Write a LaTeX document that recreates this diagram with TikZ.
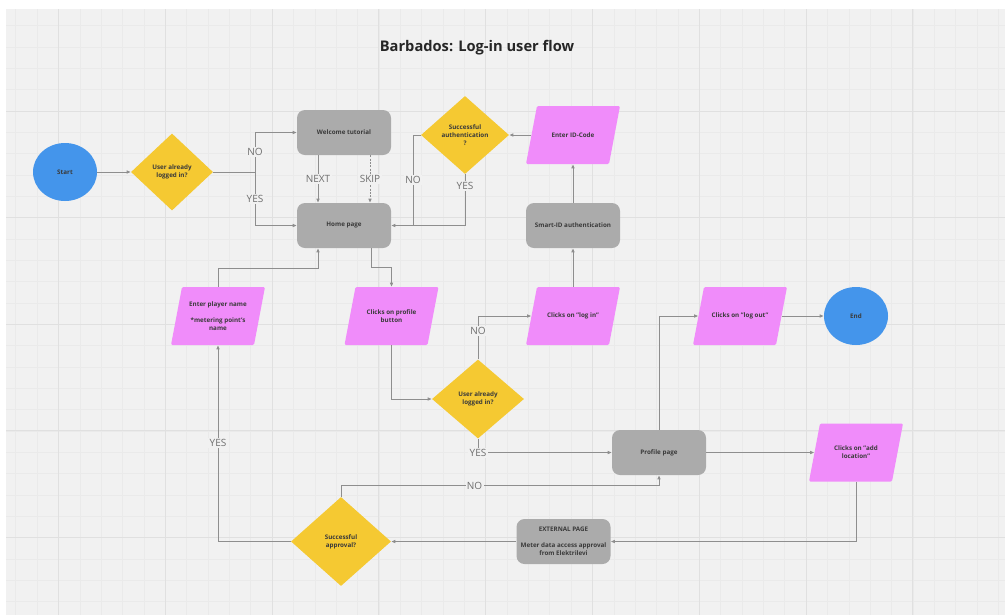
\documentclass[tikz,border=0pt]{standalone}
\usepackage{fontspec}
\setmainfont{Open Sans}
\usetikzlibrary{shapes.geometric,arrows.meta,calc}

\definecolor{canvas}{HTML}{F1F1F1}
\definecolor{gridminor}{HTML}{EAEAEA}
\definecolor{gridmajor}{HTML}{E0E0E0}
\definecolor{boxgray}{HTML}{ABABAB}
\definecolor{flowpink}{HTML}{F08CFA}
\definecolor{flowyellow}{HTML}{F5C932}
\definecolor{flowblue}{HTML}{4495EB}
\definecolor{wire}{HTML}{8E8E8E}
\definecolor{ink}{HTML}{3A3A3A}
\definecolor{labelgray}{HTML}{6E6E6E}

\tikzset{
  nodetext/.style={font=\fontsize{4.7}{6}\selectfont\bfseries, text=ink, align=center},
  process/.style={nodetext, rectangle, rounded corners=6pt, fill=boxgray,
    minimum width=70.5pt, minimum height=33.75pt, inner sep=0pt},
  terminal/.style={nodetext, ellipse, fill=flowblue,
    minimum width=48pt, minimum height=43.5pt, inner sep=0pt},
  decision/.style={nodetext, diamond, fill=flowyellow, inner sep=0pt, aspect=1},
  % slanted input/output box: a parallelogram filled inside a plain rectangle
  io/.style={nodetext, rectangle, minimum width=70.5pt, minimum height=43.5pt, inner sep=0pt,
    path picture={
      \fill[flowpink, rounded corners=1pt]
        ($(path picture bounding box.north west)+(11,0)$) --
        (path picture bounding box.north east) --
        ($(path picture bounding box.south east)+(-11,0)$) --
        (path picture bounding box.south west) -- cycle;
    }},
  flow/.style={draw=wire, line width=0.6pt, -{Latex[length=3pt,width=2.8pt]}},
  plain/.style={draw=wire, line width=0.6pt},
  lbl/.style={fill=canvas, text=labelgray, font=\fontsize{7.5}{9}\selectfont, inner sep=1pt},
  heading/.style={font=\fontsize{11}{13}\selectfont\bfseries, text=black!85}
}

\begin{document}
\begin{tikzpicture}[x=0.75pt,y=-0.75pt]
% page and canvas
\useasboundingbox (0,0) rectangle (1005,615);
\fill[white] (0,0) rectangle (1005,615);
\fill[canvas] (6,9) rectangle (1005,615);
% minor grid
\foreach \i in {-2,...,44} {
  \pgfmathsetmacro\xx{58.5+21.36*\i}
  \draw[gridminor, line width=0.45pt] (\xx,9) -- (\xx,615);
}
\foreach \j in {-4,...,23} {
  \pgfmathsetmacro\yy{111+21.33*\j}
  \draw[gridminor, line width=0.45pt] (6,\yy) -- (1005,\yy);
}
% major grid
\foreach \i in {0,...,8} {
  \pgfmathsetmacro\xx{58.5+106.8*\i}
  \draw[gridmajor, line width=0.7pt] (\xx,9) -- (\xx,615);
}
\foreach \j in {0,...,4} {
  \pgfmathsetmacro\yy{111+106.65*\j}
  \draw[gridmajor, line width=0.7pt] (6,\yy) -- (1005,\yy);
}

% title
\node[heading] (title) at (477,48) {Barbados: Log-in user flow};

% nodes
\node[terminal] (start) at (65,172) {Start};
\node[decision, minimum width=61.5pt, minimum height=57.75pt] (q1) at (172,172) {User already\\logged in?};
\node[process] (welcome) at (344,132.5) {Welcome tutorial};
\node[process] (home) at (344,225.5) {Home page};
\node[decision, minimum width=66pt, minimum height=58.5pt] (auth) at (465,135) {Successful\\authentication\\?};
\node[io] (idcode) at (573,135) {Enter ID-Code};
\node[process] (smartid) at (573,225.5) {Smart-ID authentication};
\node[io] (player) at (218,316) {Enter player name\\[6pt]*metering point's\\name};
\node[io] (profilebtn) at (391.5,316) {Clicks on profile\\button};
\node[decision, minimum width=69pt, minimum height=59.25pt] (q2) at (478,399) {User already\\logged in?};
\node[io] (login) at (573,316) {Clicks on "log in"};
\node[process] (profile) at (659,452.5) {Profile page};
\node[io] (logout) at (740,316) {Clicks on "log out"};
\node[terminal] (end) at (856,316) {End};
\node[io] (addloc) at (856,452.5) {Clicks on "add\\location"};
\node[process, minimum height=33.75pt] (external) at (563.5,541.5) {EXTERNAL PAGE\\[6pt]Meter data access approval\\from Elektrilevi};
\node[decision, minimum width=75pt, minimum height=66.75pt] (approval) at (341,541.5) {Successful\\approval?};

% mid-height points on the slanted sides
\coordinate (idcodeL) at ($(idcode.west)+(5.5,0)$);
\coordinate (loginL) at ($(login.west)+(5.5,0)$);
\coordinate (logoutL) at ($(logout.west)+(5.5,0)$);
\coordinate (logoutR) at ($(logout.east)+(-5.5,0)$);
\coordinate (addlocL) at ($(addloc.west)+(5.5,0)$);

% connectors
\coordinate (split) at (255,172);
\draw[flow] (start) -- (q1);
\draw[plain] (q1.east) -- (split);
\draw[flow] (split) -- node[lbl]{NO} (split |- welcome.west) -- (welcome.west);
\draw[flow] (split) -- node[lbl]{YES} (split |- home.west) -- (home.west);

\coordinate (wl) at ($(welcome.south)+(-26,0)$);
\coordinate (wr) at ($(welcome.south)+(26,0)$);
\draw[flow] (wl) -- node[lbl]{NEXT} (wl |- home.north);
\draw[flow, dash pattern=on 1.5pt off 1pt] (wr) -- node[lbl, solid]{SKIP} (wr |- home.north);

\coordinate (authjoin) at (413,225.5);
\draw[flow] (auth.south) -- node[lbl, pos=0.23]{YES} (auth.south |- home.east) -- (home.east);
\draw[plain] (auth.west) -| node[lbl, pos=0.75]{NO} (authjoin);
\draw[flow] (idcodeL) -- (auth.east);
\draw[flow] (smartid.north) -- (smartid.north |- idcode.south);

\coordinate (hl) at ($(home.south)+(-26,0)$);
\coordinate (hr) at ($(home.south)+(27,0)$);
\draw[flow] (player.north) |- ($(hl)+(0,20)$) -- (hl);
\draw[flow] (hr) -- ++(0,19) -| (profilebtn.north);
\draw[flow] (profilebtn.south) |- (q2.west);

\draw[flow] (q2.north) |- node[lbl, pos=0.33]{NO} (loginL);
\draw[flow] (login.north) -- (smartid.south);
\draw[flow] (q2.south) |- node[lbl, pos=0.5]{YES} (profile.west);

\draw[flow] (profile.north) |- (logoutL);
\draw[flow] (logoutR) -- (end.west);
\draw[flow] (profile.east) -- (addlocL);
\draw[flow] (addloc.south) |- (external.east);
\draw[flow] (external.west) -- (approval.east);
\draw[flow] (approval.west) -| node[lbl, pos=0.75]{YES} (player.south);
\draw[flow] (approval.north) -- ++(0,-11) -| node[lbl, pos=0.21]{NO} (profile.south);
\end{tikzpicture}
\end{document}
